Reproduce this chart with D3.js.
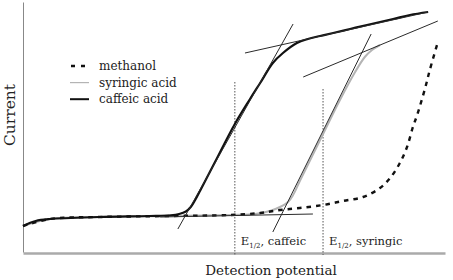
<!DOCTYPE html>
<html>
<head>
<meta charset="utf-8">
<script src="https://cdn.jsdelivr.net/npm/d3@7"></script>
<style>
  body { margin: 0; background: #fff; }
  svg text { font-family: "DejaVu Serif", "Liberation Serif", serif; fill: #222; }
</style>
</head>
<body>
<div id="graph"></div>
<script>
// potential (x) and current (y), arbitrary units 0-100
const caffeicX = [0, 3, 6.4, 18, 30, 35, 37, 38.6, 39.8, 40.8, 42, 45.5, 50.2, 53.8, 56.2, 59.2, 61.6, 64.9, 67.5, 70.4, 73.5, 77.5, 81.5, 87.7, 91.7, 96];
const caffeicY = [10.4, 12.4, 13.2, 14, 14.4, 14.7, 15.2, 16.2, 18.1, 20.8, 24.6, 36, 51.2, 61.2, 67.6, 75.6, 79.6, 83.6, 85.2, 86.4, 87.6, 89.2, 90.8, 93.2, 94.8, 96];

const syringicX = [0, 6.4, 18.25, 34.8, 49, 55, 58.5, 60.9, 62.8, 64, 65.6, 70.4, 75.1, 78.7, 81, 82.7, 84.6];
const syringicY = [10.4, 13.2, 14, 14.4, 14.8, 15.2, 16.4, 18, 20, 22.8, 28.4, 44.8, 60.8, 72, 78, 80.8, 82.8];

const methanolX = [0, 6.4, 18.25, 34.8, 49, 56.2, 60.9, 65.6, 71.1, 75.8, 80.6, 84.6, 87, 89.3, 91, 92.4, 93.4, 95.3, 96.4, 98.1];
const methanolY = [10.4, 13.2, 14, 14.4, 14.8, 15.6, 16.8, 17.6, 18.8, 20.4, 22, 25.6, 29.6, 35.6, 42, 50, 54.8, 65.6, 72.8, 82.8];

// tangent lines [x1, y1, x2, y2]
const tangents = [
  [32.5, 14, 68.7, 15.2],     // baseline
  [36.7, 9.2, 64.0, 91.2],    // caffeic rise
  [52.6, 79.6, 96, 96],       // caffeic plateau
  [59.2, 8, 82.5, 87.2],      // syringic rise
  [66.4, 70, 98.3, 92.4]      // syringic plateau
];

// half-wave potentials
const halfWaveNames = ["caffeic", "syringic"];
const halfWaveX = [50.2, 71.1];
const halfWaveTop = [68, 65.2];

const legendNames = ["methanol", "syringic acid", "caffeic acid"];

const width = 453;
const height = 280;

const x = d3.scaleLinear().domain([0, 100]).range([23, 445]);
const y = d3.scaleLinear().domain([0, 100]).range([252, 2]);

const svg = d3
  .select("#graph")
  .append("svg")
  .attr("width", width)
  .attr("height", height);

// axes without ticks
svg
  .append("g")
  .attr("class", "x-axis")
  .attr("transform", `translate(0,${y(0) + 1})`)
  .call(d3.axisBottom(x).ticks(0).tickSizeOuter(0))
  .select(".domain")
  .attr("stroke", "#aaa")
  .attr("stroke-width", 2.5);

svg
  .append("g")
  .attr("class", "y-axis")
  .attr("transform", `translate(${x(0)},0)`)
  .call(d3.axisLeft(y).ticks(0).tickSizeOuter(0))
  .select(".domain")
  .attr("stroke", "#888")
  .attr("stroke-width", 1);

// vertical dotted lines at E1/2
svg
  .selectAll(".half-wave")
  .data(halfWaveX)
  .enter()
  .append("line")
  .attr("class", "half-wave")
  .attr("x1", (d) => x(d))
  .attr("x2", (d) => x(d))
  .attr("y1", (d, i) => y(halfWaveTop[i]))
  .attr("y2", y(0) + 3)
  .attr("stroke", "#555")
  .attr("stroke-width", 1)
  .attr("stroke-dasharray", "1.5,1.5");

const line = d3
  .line()
  .x((d) => x(d[0]))
  .y((d) => y(d[1]))
  .curve(d3.curveCatmullRom.alpha(0.5));

const zip = (xs, ys) => xs.map((v, i) => [v, ys[i]]);

svg
  .append("path")
  .datum(zip(syringicX, syringicY))
  .attr("fill", "none")
  .attr("stroke", "#b4b4b4")
  .attr("stroke-width", 2)
  .attr("d", line);

svg
  .append("path")
  .datum(zip(caffeicX, caffeicY))
  .attr("fill", "none")
  .attr("stroke", "#111")
  .attr("stroke-width", 2.2)
  .attr("d", line);

svg
  .append("path")
  .datum(zip(methanolX, methanolY))
  .attr("fill", "none")
  .attr("stroke", "#111")
  .attr("stroke-width", 2.4)
  .attr("stroke-dasharray", "4.5,5")
  .attr("d", line);

svg
  .selectAll(".tangent")
  .data(tangents)
  .enter()
  .append("line")
  .attr("class", "tangent")
  .attr("x1", (d) => x(d[0]))
  .attr("y1", (d) => y(d[1]))
  .attr("x2", (d) => x(d[2]))
  .attr("y2", (d) => y(d[3]))
  .attr("stroke", "#2a2a2a")
  .attr("stroke-width", 1);

// E1/2 labels
const labels = svg
  .selectAll(".e-label")
  .data(halfWaveNames)
  .enter()
  .append("text")
  .attr("class", "e-label")
  .attr("x", (d, i) => x(halfWaveX[i]) + 6)
  .attr("y", 245)
  .style("font-size", "11.5px");
labels.append("tspan").text("E");
labels
  .append("tspan")
  .attr("dy", 3)
  .style("font-size", "7px")
  .text("1/2");
labels
  .append("tspan")
  .attr("dy", -3)
  .text((d) => ", " + d);

// axis titles
svg
  .append("text")
  .attr("x", 271)
  .attr("y", 275)
  .attr("text-anchor", "middle")
  .style("font-size", "13.5px")
  .text("Detection potential");

svg
  .append("text")
  .attr("transform", "translate(15,115) rotate(-90)")
  .attr("text-anchor", "middle")
  .style("font-size", "15.5px")
  .text("Current");

// legend
const legend = svg
  .append("g")
  .attr("class", "legend-group")
  .attr("transform", "translate(70,66)");

const legendEntries = legend
  .selectAll(".legend-entry")
  .data(legendNames)
  .enter()
  .append("g")
  .attr("class", "legend-entry")
  .attr("transform", (d, i) => `translate(0,${i * 16.6})`);

legendEntries
  .append("line")
  .attr("x1", (d, i) => (i === 0 ? 1 : 0))
  .attr("x2", 19)
  .attr("y1", 0)
  .attr("y2", 0)
  .attr("stroke", (d, i) => (i === 1 ? "#b4b4b4" : "#111"))
  .attr("stroke-width", (d, i) => (i === 0 ? 2.4 : i === 1 ? 1.2 : 2))
  .attr("stroke-dasharray", (d, i) => (i === 0 ? "4,6" : null));

legendEntries
  .append("text")
  .attr("x", 29)
  .attr("y", 4)
  .style("font-size", "12px")
  .text((d) => d);
</script>
</body>
</html>
